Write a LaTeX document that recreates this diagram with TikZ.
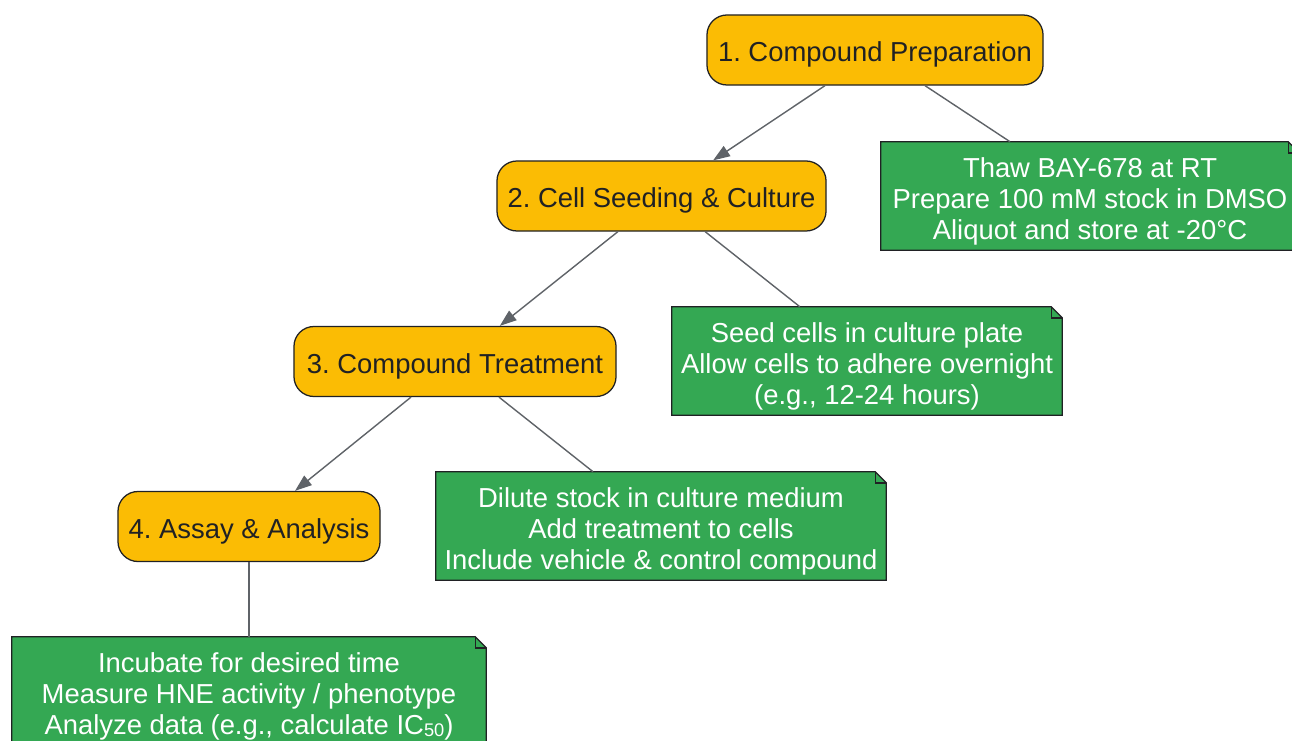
\documentclass[tikz,border=0pt]{standalone}
\usepackage{fontspec}
\setmainfont{Liberation Sans}
\usepackage{tikz}
\usetikzlibrary{arrows.meta,backgrounds}
\frenchspacing

\definecolor{stageyellow}{HTML}{FBBC04}
\definecolor{notegreen}{HTML}{34A853}
\definecolor{inkdark}{HTML}{202124}
\definecolor{edgegray}{HTML}{5F6368}

\begin{document}
\begin{tikzpicture}[
		x=0.025cm, y=-0.025cm,
		every node/.style={font=\fontsize{19.5pt}{22pt}\selectfont, align=center},
		stage/.style={rectangle, rounded corners=0.5cm, draw=inkdark, line width=0.9pt,
			fill=stageyellow, text=inkdark, minimum height=1.75cm, text height=17pt, text depth=0pt},
		note/.style={rectangle, text=white, minimum height=2.7cm, text height=62pt, text depth=0pt},
		arr/.style={draw=edgegray, line width=1pt, -{Triangle[length=0.42cm,width=0.3cm]}},
		link/.style={draw=edgegray, line width=1pt}
	]
  \useasboundingbox (0,0) rectangle (1292,741);
  \node (c1) [stage, minimum width=8.4cm] at (875,50) {1. Compound Preparation};
  \node (c2) [stage, minimum width=8.225cm] at (661.5,196) {2. Cell Seeding \& Culture};
  \node (c3) [stage, minimum width=8.05cm] at (455,361.5) {3. Compound Treatment};
  \node (c4) [stage, minimum width=6.55cm] at (249,526.5) {4. Assay \& Analysis};
  \node (n1) [note, minimum width=10.45cm] at (1090,196)
    {Thaw BAY-678 at RT\\Prepare 100 mM stock in DMSO\\Aliquot and store at -20°C};
  \node (n2) [note, minimum width=9.75cm] at (867,361)
    {Seed cells in culture plate\\Allow cells to adhere overnight\\(e.g., 12-24 hours)};
  \node (n3) [note, minimum width=11.25cm] at (661,526)
    {Dilute stock in culture medium\\Add treatment to cells\\Include vehicle \& control compound};
  \node (n4) [note, minimum width=11.85cm] at (249,691)
    {Incubate for desired time\\Measure HNE activity / phenotype\\Analyze data (e.g., calculate IC{\fontsize{13pt}{13pt}\selectfont\raisebox{-1pt}{50}})};
  % note sheets with folded corner
  \begin{scope}[on background layer]
    \foreach \n in {n1,n2,n3,n4} {
      \draw[fill=notegreen, draw=inkdark, line width=0.9pt]
        (\n.north west) -- ([xshift=-0.28cm]\n.north east) -- ([yshift=-0.28cm]\n.north east)
        -- (\n.south east) -- (\n.south west) -- cycle;
      \draw[draw=inkdark, line width=0.9pt]
        ([xshift=-0.28cm]\n.north east) -- ([xshift=-0.28cm,yshift=-0.28cm]\n.north east)
        -- ([yshift=-0.28cm]\n.north east);
    }
  \end{scope}
  \draw[arr] ([xshift=-1.25cm]c1.south) -- ([xshift=1.29cm]c2.north);
  \draw[link] ([xshift=1.25cm]c1.south) -- ([xshift=-2cm]n1.north);
  \draw[arr] ([xshift=-1.09cm]c2.south) -- ([xshift=1.12cm]c3.north);
  \draw[link] ([xshift=1.09cm]c2.south) -- ([xshift=-1.68cm]n2.north);
  \draw[arr] ([xshift=-1.1cm]c3.south) -- ([xshift=1.15cm]c4.north);
  \draw[link] ([xshift=1.1cm]c3.south) -- ([xshift=-1.7cm]n3.north);
  \draw[link] (c4) -- (n4);
\end{tikzpicture}
\end{document}
